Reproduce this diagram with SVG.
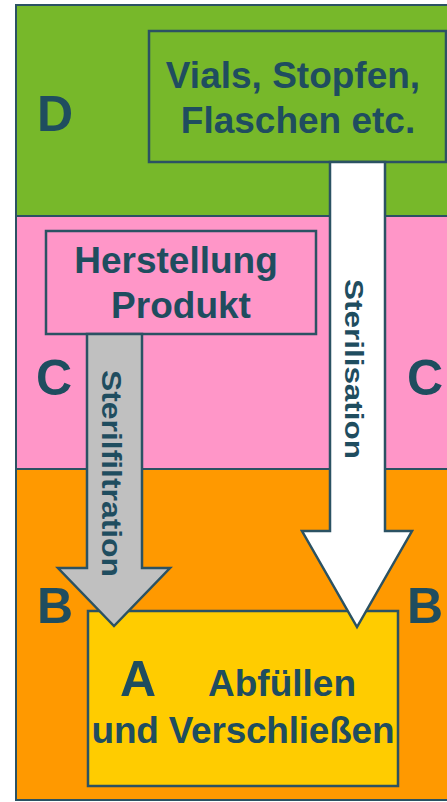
<svg xmlns="http://www.w3.org/2000/svg" width="447" height="802" viewBox="0 0 447 802">
  <style>
    .zone { stroke: #2b5263; stroke-width: 2; }
    .box { stroke: #2b5263; stroke-width: 2.5; }
    .arrow { stroke: #2b5263; stroke-width: 2.5; stroke-linejoin: miter; }
    text { font-family: "Liberation Sans", Arial, sans-serif; font-weight: bold; fill: #1f4d5f; }
    .big { font-size: 50px; }
    .lbl { font-size: 37px; text-anchor: middle; }
    .vert { font-size: 27px; text-anchor: middle; }
  </style>

  <!-- cleanroom grade zones -->
  <g id="zone-D">
    <rect class="zone" x="16" y="5" width="450" height="211" fill="#77b82a"/>
    <text class="big" x="55" y="131" text-anchor="middle">D</text>
  </g>
  <g id="zone-C">
    <rect class="zone" x="16" y="216" width="450" height="253" fill="#ff96c8"/>
    <text class="big" x="54" y="395" text-anchor="middle">C</text>
    <text class="big" x="425" y="395" text-anchor="middle">C</text>
  </g>
  <g id="zone-B">
    <rect class="zone" x="16" y="469" width="450" height="331" fill="#ff9900"/>
    <text class="big" x="55" y="623" text-anchor="middle">B</text>
    <text class="big" x="425" y="623" text-anchor="middle">B</text>
  </g>

  <!-- process boxes -->
  <g id="vials">
    <rect class="box" x="149" y="31" width="297" height="131" fill="#77b82a"/>
    <text class="lbl" x="293" y="88">Vials, Stopfen,</text>
    <text class="lbl" x="298" y="133">Flaschen etc.</text>
  </g>
  <g id="herstellung">
    <rect class="box" x="46" y="231" width="270" height="103" fill="#ff96c8"/>
    <text class="lbl" x="176" y="273">Herstellung</text>
    <text class="lbl" x="181" y="318">Produkt</text>
  </g>
  <g id="abfuellen">
    <rect class="box" x="88" y="611" width="310" height="175" fill="#ffcc00"/>
    <text class="big" x="138" y="696" text-anchor="middle">A</text>
    <text class="lbl" x="282" y="696">Abfüllen</text>
    <text class="lbl" x="243" y="743" textLength="303" lengthAdjust="spacing">und Verschließen</text>
  </g>

  <!-- connectors -->
  <g id="connectors">
    <polygon class="arrow" fill="#ffffff" points="330,162 385,162 385,531 412,531 357,627 302,531 330,531"/>
    <polygon class="arrow" fill="#c0c0c0" points="87,334 142,334 142,568 170,568 114,626 58,568 87,568"/>
    <text class="vert" transform="translate(345,369) rotate(90)" x="0" y="0" style="font-size:26px" textLength="180" lengthAdjust="spacingAndGlyphs">Sterilisation</text>
    <text class="vert" transform="translate(102,473.5) rotate(90)" x="0" y="0" textLength="207" lengthAdjust="spacingAndGlyphs">Sterilfiltration</text>
  </g>
</svg>
